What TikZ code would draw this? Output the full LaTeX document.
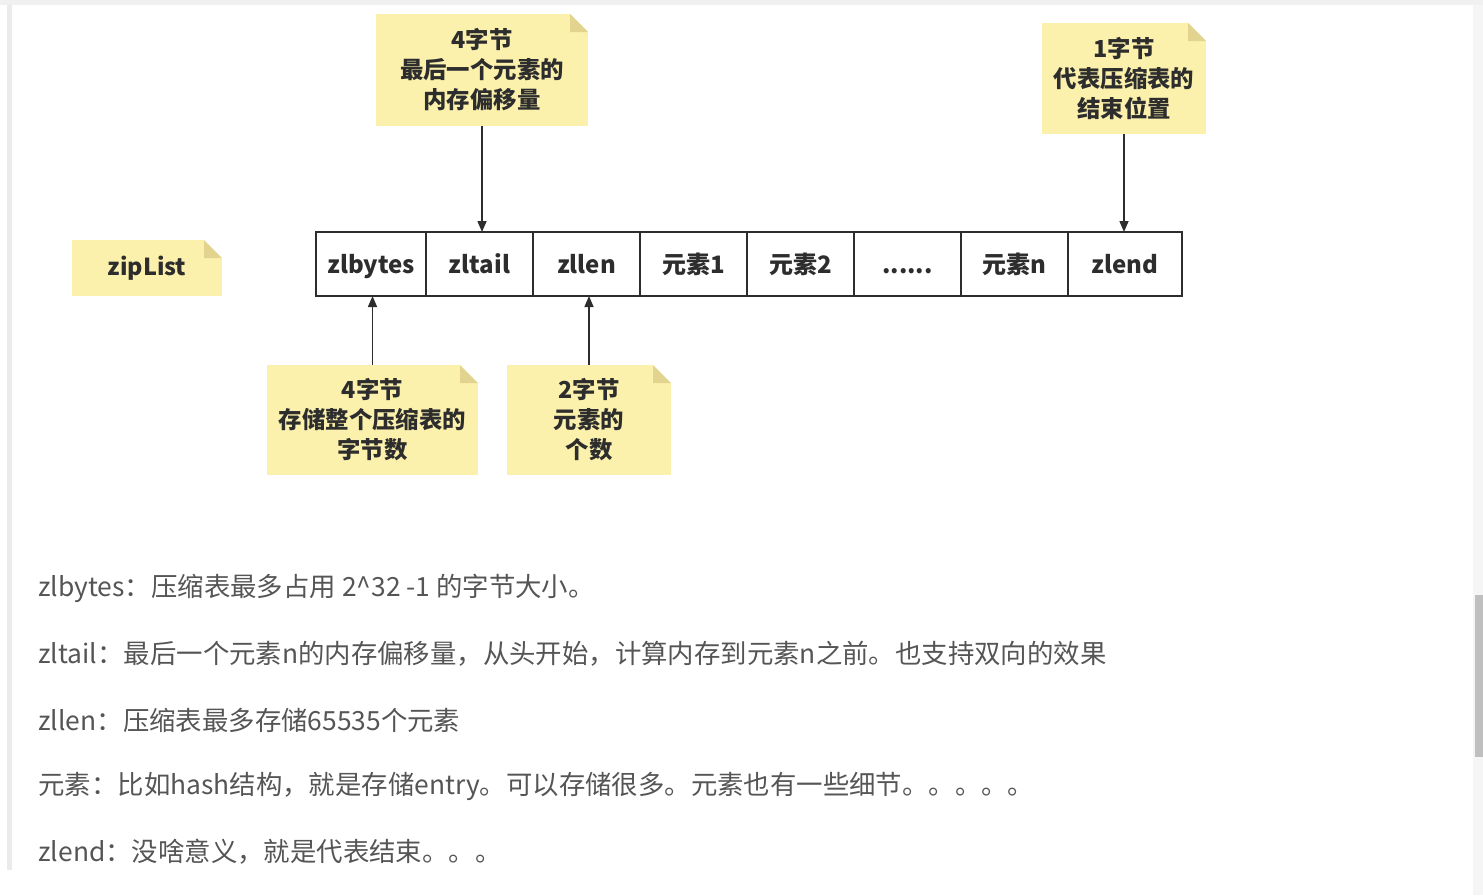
\documentclass[tikz,border=0pt]{standalone}
\usepackage{fontspec}
\setmainfont{Noto Sans CJK SC}
\usepackage{xcolor}
\usetikzlibrary{arrows.meta, positioning}

\definecolor{notebg}{RGB}{251,241,172}
\definecolor{notefold}{RGB}{226,212,142}
\definecolor{inktxt}{RGB}{45,45,45}
\definecolor{desctxt}{RGB}{85,85,85}

\begin{document}
\begin{tikzpicture}[
x=0.5pt, y=-0.5pt,
note/.style={
rectangle,
fill=notebg,
text=inktxt,
inner sep=0pt,
align=center,
font=\fontsize{11.7}{15}\selectfont\bfseries,
path picture={
\fill[white] ([xshift=-9pt]path picture bounding box.north east)
-- (path picture bounding box.north east)
-- ([yshift=-9pt]path picture bounding box.north east) -- cycle;
\fill[notefold] ([xshift=-9pt]path picture bounding box.north east)
-- ([xshift=-9pt,yshift=-9pt]path picture bounding box.north east)
-- ([yshift=-9pt]path picture bounding box.north east) -- cycle;
}
},
cell/.style={
rectangle,
draw=inktxt,
line width=0.9pt,
outer sep=0pt,
minimum width=53.5pt,
minimum height=32pt,
text height=12pt,
text depth=2.5pt,
text=inktxt,
font=\fontsize{12}{14}\selectfont\bfseries
},
desc/.style={
anchor=west,
inner sep=0pt,
text=desctxt,
font=\fontsize{13.2}{16}\selectfont
},
arrow/.style={-{Triangle[length=5.5pt,width=4.5pt]},draw=inktxt,line width=0.75pt}
]

\useasboundingbox (0,0) rectangle (1483,895);

% page frame
\fill[black!6] (0,0) rectangle (1483,5);
\fill[black!8] (7,5) rectangle (12,870);
\fill[black!4] (1473,5) rectangle (1483,895);
\fill[black!25] (1475,595) rectangle (1483,757);

% title
\node[note,minimum width=75pt,minimum height=28pt] (title) at (147,268) {zipList};

% the list
\node[cell,minimum width=55pt] (zlbytes) at (371,264) {zlbytes};
\node[cell,right=0pt of zlbytes] (zltail) {zltail};
\node[cell,right=0pt of zltail] (zllen) {zllen};
\node[cell,right=0pt of zllen] (e1) {元素1};
\node[cell,right=0pt of e1] (e2) {元素2};
\node[cell,right=0pt of e2] (dots) {......};
\node[cell,right=0pt of dots] (en) {元素n};
\node[cell,right=0pt of en,minimum width=57pt] (zlend) {zlend};

% notes
\node[note,minimum width=106pt,minimum height=56pt] (tailnote) at (482,70)
{4字节\\最后一个元素的\\内存偏移量};
\node[note,minimum width=82pt,minimum height=55.5pt] (endnote) at (1124,78.5)
{1字节\\代表压缩表的\\结束位置};
\node[note,minimum width=105.5pt,minimum height=55pt] (bytesnote) at (372.5,420)
{4字节\\存储整个压缩表的\\字节数};
\node[note,minimum width=82pt,minimum height=55pt] (lennote) at (589,420)
{2字节\\元素的\\个数};

% Arrows
\draw[arrow] (tailnote.south) -- (tailnote.south |- zltail.north);
\draw[arrow] (endnote.south) -- (endnote.south |- zlend.north);
\draw[arrow] (bytesnote.north) -- (bytesnote.north |- zlbytes.south);
\draw[arrow] (lennote.north) -- (lennote.north |- zllen.south);

% description
\node[desc] (d1) at (38,588) {zlbytes：压缩表最多占用 2\^{}32 -1 的字节大小。};
\node[desc] (d2) at (38,654) {zltail：最后一个元素n的内存偏移量，从头开始，计算内存到元素n之前。也支持双向的效果};
\node[desc] (d3) at (38,720) {zllen：压缩表最多存储65535个元素};
\node[desc] (d4) at (38,786) {元素：比如hash结构，就是存储entry。可以存储很多。元素也有一些细节。。。。。};
\node[desc] (d5) at (38,852) {zlend：没啥意义，就是代表结束。。。};

\end{tikzpicture}
\end{document}
